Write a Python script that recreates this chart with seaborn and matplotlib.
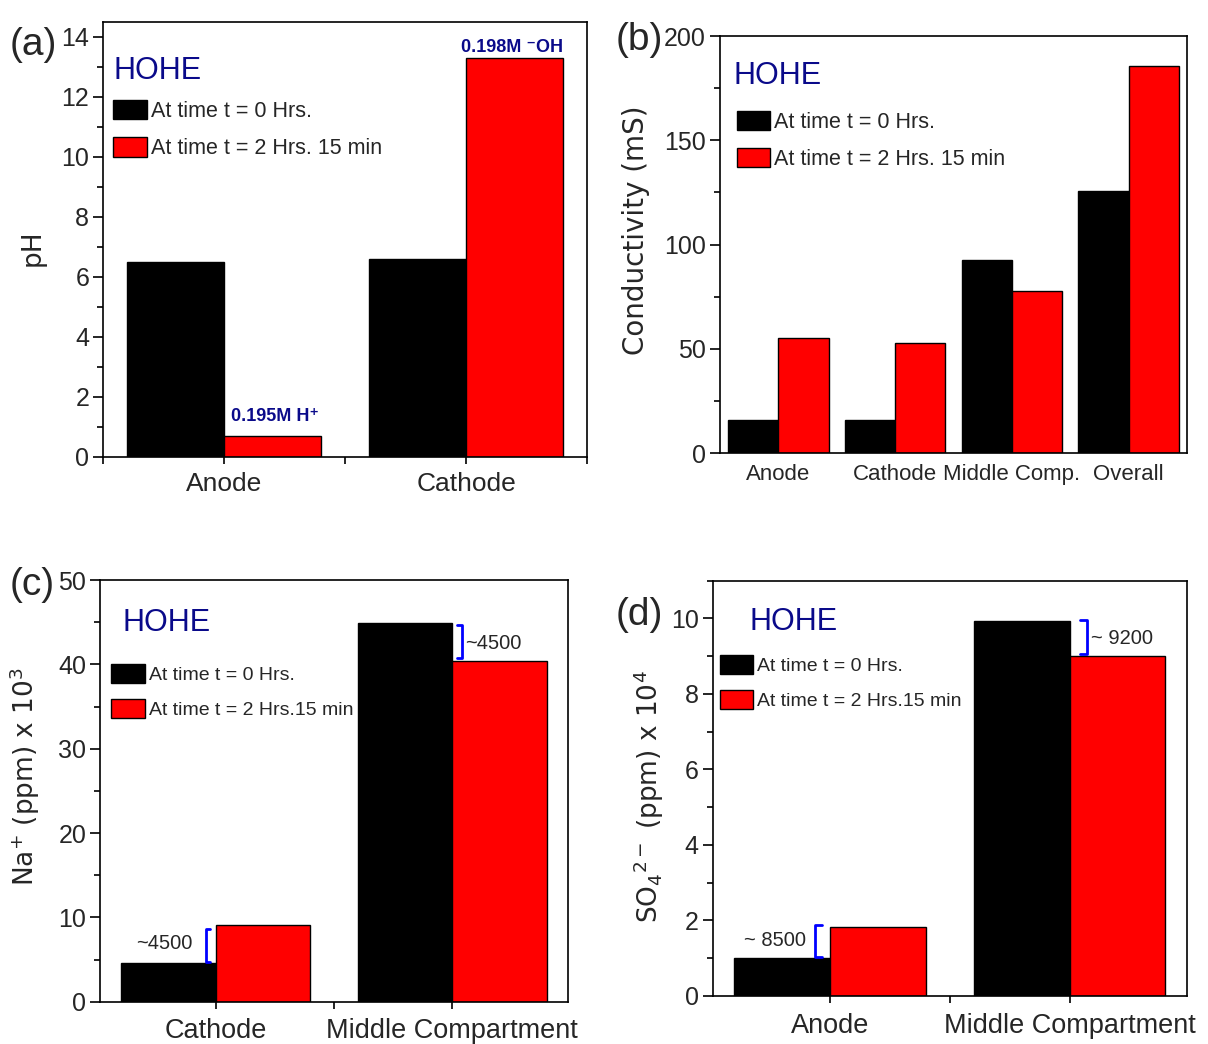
import matplotlib
matplotlib.use("Agg")
import pandas as pd
import matplotlib.pyplot as plt
import seaborn as sns
from matplotlib.patches import Patch
from matplotlib.ticker import MultipleLocator, FixedLocator
from matplotlib import font_manager

# ---- data ----
ph_sites = ["Anode", "Cathode"]
ph_t0 = [6.5, 6.6]
ph_t2 = [0.7, 13.3]

cond_sites = ["Anode", "Cathode", "Middle Comp.", "Overall"]
cond_t0 = [16.0, 16.0, 92.6, 125.5]
cond_t2 = [55.0, 52.8, 77.8, 185.8]

na_sites = ["Cathode", "Middle Compartment"]
na_t0 = [4.55, 44.9]
na_t2 = [9.1, 40.4]

so4_sites = ["Anode", "Middle Compartment"]
so4_t0 = [1.0, 9.93]
so4_t2 = [1.84, 9.0]

label_t0 = "At time t = 0 Hrs."
label_t2_ab = "At time t = 2 Hrs. 15 min"
label_t2_cd = "At time t = 2 Hrs.15 min"

NAVY = "#0a0a8a"

sns.set_theme(style="ticks")
names = {f.name for f in font_manager.fontManager.ttflist}
narrow = "Liberation Sans Narrow" if "Liberation Sans Narrow" in names else "Liberation Sans"
plt.rcParams["font.family"] = [narrow, "DejaVu Sans"]
plt.rcParams["axes.linewidth"] = 1.2
plt.rcParams["axes.edgecolor"] = "black"


def make_df(sites, t0, t2):
    return pd.DataFrame({
        "site": sites + sites,
        "value": t0 + t2,
        "time": ["t0"] * len(sites) + ["t2"] * len(sites),
    })


def draw(ax, sites, t0, t2, width=0.8):
    df = make_df(sites, t0, t2)
    sns.barplot(data=df, x="site", y="value", hue="time",
                palette={"t0": "black", "t2": "red"}, saturation=1,
                edgecolor="black", linewidth=1, width=width,
                legend=False, ax=ax)
    ax.set_xlabel("")


def style(ax, ylim, major, minor, xticks=True, xpad=6, xsize=19):
    ax.set_ylim(*ylim)
    ax.yaxis.set_major_locator(MultipleLocator(major))
    ax.yaxis.set_minor_locator(MultipleLocator(minor))
    ax.tick_params(axis="y", which="major", direction="out", length=7,
                   width=1.2, labelsize=18, pad=3, color="black")
    ax.tick_params(axis="y", which="minor", direction="out", length=4,
                   width=1.2, color="black")
    ax.tick_params(axis="y", which="both", left=True, right=False)
    if xticks:
        ax.xaxis.set_minor_locator(FixedLocator([-0.5, 0.5, 1.5]))
        ax.tick_params(axis="x", which="both", direction="out", length=5,
                       width=1.2, color="black", bottom=True)
    else:
        ax.tick_params(axis="x", which="both", length=0)
    ax.tick_params(axis="x", labelsize=xsize, pad=xpad)
    for s in ax.spines.values():
        s.set_visible(True)
        s.set_linewidth(1.2)
        s.set_color("black")


def legend(ax, lab2, x, y, size=15.5):
    handles = [Patch(facecolor="black", edgecolor="black", label=label_t0),
               Patch(facecolor="red", edgecolor="black", label=lab2)]
    hl = 1.55 * 15.5 / size
    ax.legend(handles=handles, loc="upper left", bbox_to_anchor=(x, y),
              frameon=False, fontsize=size, handlelength=hl,
              handleheight=15.5 / size, handletextpad=0.2,
              labelspacing=0.7 * 15.5 / size, borderpad=0, borderaxespad=0)


def hohe(ax, x, y):
    ax.text(x, y, "HOHE", transform=ax.transAxes, color=NAVY, fontsize=22,
            ha="left", va="baseline")


fig = plt.figure(figsize=(12.08, 10.44), dpi=100)

# (a) pH
ax_a = fig.add_axes([0.0853, 0.5623, 0.4007, 0.4167])
draw(ax_a, ph_sites, ph_t0, ph_t2)
style(ax_a, (0, 14.5), 2, 1, xticks=True, xpad=6, xsize=19)
ax_a.set_ylabel("pH", fontsize=19, family="DejaVu Sans")
ax_a.yaxis.set_label_coords(-0.118, 0.48)
legend(ax_a, label_t2_ab, 0.021, 0.82)
hohe(ax_a, 0.021, 0.868)
ax_a.text(0.21, 1.2, "0.195M H⁺", color=NAVY, fontsize=13, fontweight="bold",
          ha="center", va="baseline")
ax_a.text(1.19, 13.5, "0.198M ⁻OH", color=NAVY, fontsize=13,
          fontweight="bold", ha="center", va="baseline")

# (b) conductivity
ax_b = fig.add_axes([0.596, 0.566, 0.3866, 0.3995])
draw(ax_b, cond_sites, cond_t0, cond_t2, width=0.86)
style(ax_b, (0, 200), 50, 25, xticks=False, xpad=8, xsize=16)
ax_b.set_ylabel("Conductivity (mS)", fontsize=20, family="DejaVu Sans")
ax_b.yaxis.set_label_coords(-0.15, 0.535)
legend(ax_b, label_t2_ab, 0.036, 0.82)
hohe(ax_b, 0.028, 0.885)

# (c) Na+
ax_c = fig.add_axes([0.0828, 0.0405, 0.3874, 0.4039])
draw(ax_c, na_sites, na_t0, na_t2)
style(ax_c, (0, 50), 10, 5, xticks=True, xpad=7, xsize=19.5)
ax_c.set_ylabel("Na$^{+}$ (ppm) x 10$^{3}$", fontsize=19,
                family="DejaVu Sans")
ax_c.yaxis.set_label_coords(-0.124, 0.535)
legend(ax_c, label_t2_cd, 0.024, 0.80, size=14)
hohe(ax_c, 0.047, 0.879)
ax_c.plot([-0.026, -0.043, -0.043, -0.026], [4.75, 4.75, 8.6, 8.6],
          color="blue", lw=2)
ax_c.plot([1.02, 1.043, 1.043, 1.02], [40.7, 40.7, 44.7, 44.7],
          color="blue", lw=2)
ax_c.text(-0.1, 6.9, "~4500", fontsize=14.5, ha="right", va="center")
ax_c.text(1.056, 42.5, "~4500", fontsize=14.5, ha="left", va="center")

# (d) SO4 2-
ax_d = fig.add_axes([0.590, 0.046, 0.3926, 0.3978])
draw(ax_d, so4_sites, so4_t0, so4_t2)
style(ax_d, (0, 11), 2, 1, xticks=True, xpad=7, xsize=19.5)
ax_d.set_ylabel("SO$_{4}$$^{2-}$ (ppm) x 10$^{4}$", fontsize=19,
                family="DejaVu Sans")
ax_d.yaxis.set_label_coords(-0.099, 0.48)
legend(ax_d, label_t2_cd, 0.015, 0.82, size=14)
hohe(ax_d, 0.078, 0.882)
ax_d.plot([-0.034, -0.064, -0.064, -0.034], [1.04, 1.04, 1.88, 1.88],
          color="blue", lw=2)
ax_d.plot([1.042, 1.072, 1.072, 1.042], [9.07, 9.07, 9.96, 9.96],
          color="blue", lw=2)
ax_d.text(-0.1, 1.48, "~ 8500", fontsize=14.5, ha="right", va="center")
ax_d.text(1.09, 9.47, "~ 9200", fontsize=14.5, ha="left", va="center")

# panel letters
for lab, x, y in [("(a)", 0.008, 0.957), ("(b)", 0.51, 0.962),
                  ("(c)", 0.008, 0.44), ("(d)", 0.51, 0.411)]:
    fig.text(x, y, lab, fontsize=28, ha="left", va="center")

fig.savefig("out.png", dpi=100, facecolor="white")
